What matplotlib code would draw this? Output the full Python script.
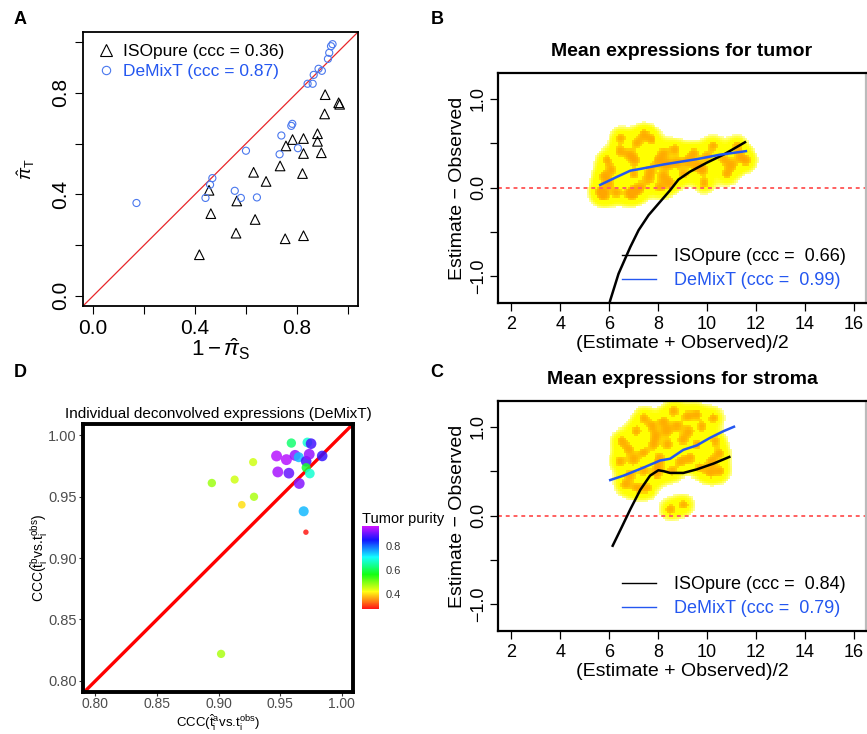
import numpy as np
import matplotlib
matplotlib.use("Agg")
import matplotlib.pyplot as plt
from matplotlib.colors import LinearSegmentedColormap, hsv_to_rgb
from matplotlib.lines import Line2D

plt.rcParams['font.family'] = ['Liberation Sans', 'DejaVu Sans']
plt.rcParams['mathtext.fontset'] = 'custom'
plt.rcParams['mathtext.rm'] = 'Liberation Sans'
plt.rcParams['mathtext.it'] = 'Liberation Sans:italic'

# ---- panel A: purity estimates
iso_x = [0.417, 0.455, 0.462, 0.561, 0.564, 0.630, 0.636, 0.679, 0.734, 0.757, 0.754, 0.783,
         0.826, 0.826, 0.822, 0.826, 0.881, 0.881, 0.896, 0.909, 0.911, 0.964, 0.968]
iso_y = [0.162, 0.416, 0.324, 0.247, 0.374, 0.487, 0.301, 0.451, 0.512, 0.591, 0.225, 0.616,
         0.620, 0.561, 0.482, 0.237, 0.639, 0.609, 0.564, 0.717, 0.793, 0.761, 0.755]
dmx_x = [0.170, 0.441, 0.459, 0.468, 0.556, 0.580, 0.600, 0.643, 0.732, 0.739, 0.778, 0.782,
         0.804, 0.842, 0.862, 0.866, 0.885, 0.898, 0.922, 0.927, 0.934, 0.940]
dmx_y = [0.366, 0.386, 0.438, 0.464, 0.414, 0.386, 0.572, 0.388, 0.558, 0.632, 0.670, 0.678,
         0.582, 0.836, 0.836, 0.871, 0.895, 0.887, 0.934, 0.958, 0.984, 0.992]

# ---- panel B: tumor mean expressions (MA plot)
tum_iso_x = [5.98, 6.04, 6.38, 6.86, 7.20, 7.61, 8.08, 8.49, 8.83, 9.31, 9.99, 10.67, 11.55]
tum_iso_y = [-1.33, -1.27, -0.97, -0.67, -0.48, -0.31, -0.16, -0.03, 0.09, 0.18, 0.28, 0.37, 0.51]
tum_dmx_x = [5.63, 6.31, 6.86, 7.27, 8.22, 9.58, 10.53, 11.59]
tum_dmx_y = [0.03, 0.12, 0.19, 0.21, 0.26, 0.32, 0.37, 0.41]
tum_cloud_x = [6.11, 5.77, 6.45, 6.86, 6.48, 7.40, 7.74, 8.22, 8.69, 9.44, 9.03, 9.85, 10.67,
               11.35, 11.21, 10.26, 5.63, 6.31, 6.99, 7.67, 8.22, 7.27, 8.08, 8.76, 8.36,
               9.58, 11.62, 5.90, 5.77, 6.86, 7.13, 10.80, 7.00, 9.90, 7.05, 8.00, 9.20,
               10.00, 11.00, 6.00, 7.60, 8.50]
tum_cloud_y = [0.20, 0.13, 0.41, 0.37, 0.56, 0.60, 0.54, 0.39, 0.43, 0.39, 0.15, 0.20, 0.32,
               0.35, 0.47, 0.47, -0.04, -0.06, 0.15, 0.20, 0.13, 0.00, 0.00, 0.28, 0.26,
               0.24, 0.30, 0.31, -0.09, -0.07, 0.50, 0.15, -0.05, 0.05, 0.30, 0.30, 0.30,
               0.35, 0.25, 0.05, 0.10, 0.05]

# ---- panel C: stroma mean expressions
str_iso_x = [6.14, 6.52, 6.86, 7.27, 7.67, 8.01, 8.22, 8.49, 9.03, 9.58, 10.26, 10.91]
str_iso_y = [-0.34, -0.125, 0.07, 0.29, 0.45, 0.51, 0.50, 0.48, 0.48, 0.52, 0.585, 0.66]
str_dmx_x = [6.04, 6.59, 7.40, 8.08, 8.49, 9.03, 9.58, 10.12, 10.67, 11.10]
str_dmx_y = [0.40, 0.45, 0.54, 0.62, 0.64, 0.74, 0.79, 0.875, 0.95, 1.00]
str_cloud_x = [6.52, 7.74, 8.36, 8.63, 9.18, 9.59, 10.27, 9.24, 8.77, 7.40, 7.81, 8.08, 7.00,
               6.86, 7.40, 7.95, 8.57, 8.91, 10.13, 10.20, 10.33, 9.72, 9.04, 8.50, 7.13,
               6.66, 7.54, 10.54, 6.45, 8.22, 7.40, 9.59, 7.90, 8.40, 9.00, 9.80, 10.50,
               7.10, 8.00, 9.30, 6.80]
str_cloud_y = [0.84, 1.01, 0.95, 1.18, 1.12, 1.14, 1.10, 0.95, 1.01, 0.71, 0.80, 0.65, 0.63,
               0.46, 0.50, 0.46, 0.50, 0.61, 0.48, 0.61, 0.84, 0.54, 0.12, 0.07, 0.31,
               0.35, 0.31, 0.50, 0.61, 1.06, 1.10, 0.80, 0.90, 0.80, 0.85, 1.00, 0.70,
               0.95, 0.55, 0.65, 0.75]

# ---- panel D: individual deconvolved expressions
ind_x = [0.959, 0.972, 0.975, 0.947, 0.955, 0.962, 0.965, 0.971, 0.9735, 0.984, 0.948, 0.957,
         0.971, 0.974, 0.9654, 0.969, 0.8945, 0.913, 0.9287, 0.9188, 0.9708, 0.928, 0.902]
ind_y = [0.9935, 0.994, 0.993, 0.983, 0.980, 0.9835, 0.982, 0.9787, 0.9844, 0.983, 0.970, 0.969,
         0.9735, 0.9687, 0.9606, 0.938, 0.961, 0.9638, 0.9498, 0.9433, 0.921, 0.978, 0.822]
ind_purity = [0.62, 0.68, 0.88, 0.95, 0.95, 0.93, 0.75, 0.88, 0.93, 0.87, 0.94, 0.90,
              0.58, 0.68, 0.92, 0.75, 0.48, 0.45, 0.47, 0.40, 0.28, 0.45, 0.47]

BLUE = '#2457F0'

fig = plt.figure(figsize=(8.67, 7.34), dpi=100)
W, H = 867.0, 734.0


def px_axes(x0, y0, x1, y1):
    return fig.add_axes([x0 / W, 1 - y1 / H, (x1 - x0) / W, (y1 - y0) / H])


def kde(X, Y, cx, cy, bx, by):
    d = np.zeros_like(X)
    for a, b in zip(cx, cy):
        d += np.exp(-0.5 * ((X - a) / bx) ** 2 - 0.5 * ((Y - b) / by) ** 2)
    return d


def density(ax, cx, cy, xlim, ylim):
    gx = np.arange(xlim[0], xlim[1], 0.08)
    gy = np.arange(ylim[0], ylim[1], 0.024)
    X, Y = np.meshgrid(gx, gy)
    wide = np.ma.masked_less(kde(X, Y, cx, cy, 0.30, 0.085), 0.30)
    narrow = np.ma.masked_less(kde(X, Y, cx, cy, 0.18, 0.05), 0.6)
    ycm = LinearSegmentedColormap.from_list('y', ['#FFFFA0', '#FFFF30', '#FFFF00'])
    ocm = LinearSegmentedColormap.from_list('o', ['#FFD800', '#FFB400', '#FFA500'])
    ax.pcolormesh(X, Y, wide, cmap=ycm, vmin=0.3, vmax=0.8, shading='nearest', zorder=0.5)
    ax.pcolormesh(X, Y, narrow, cmap=ocm, vmin=0.6, vmax=1.3, shading='nearest', zorder=0.6)


# ================= A
axA = px_axes(83, 32, 358, 306)
axA.plot([-0.1, 1.1], [-0.1, 1.1], color='#E8262A', lw=0.9, zorder=1)
axA.scatter(iso_x, iso_y, marker='^', s=48, facecolors='none', edgecolors='black', linewidths=0.8, zorder=3)
axA.scatter(dmx_x, dmx_y, marker='o', s=26, facecolors='none', edgecolors='#4A78EE', linewidths=0.8, zorder=3)
axA.set_xlim(-0.04, 1.04)
axA.set_ylim(-0.04, 1.04)
ticksA = [0.0, 0.2, 0.4, 0.6, 0.8, 1.0]
labsA = ['0.0', '', '0.4', '', '0.8', '']
axA.set_xticks(ticksA)
axA.set_xticklabels(labsA, fontsize=15)
axA.set_yticks(ticksA)
axA.set_yticklabels(labsA, fontsize=15, rotation=90, va='center')
axA.tick_params(length=6, width=0.8)
axA.set_xlabel(r'$1-\hat{\pi}_{\mathrm{S}}$', fontsize=16, labelpad=-1)
axA.set_ylabel(r'$\hat{\pi}_{\mathrm{T}}$', fontsize=13, labelpad=10)
for s in axA.spines.values():
    s.set_linewidth(1.3)
hA = [Line2D([], [], marker='^', ls='none', mfc='none', mec='black', ms=8, mew=0.8),
      Line2D([], [], marker='o', ls='none', mfc='none', mec='#4A78EE', ms=6, mew=0.8)]
legA = axA.legend(hA, ['ISOpure (ccc = 0.36)', 'DeMixT (ccc = 0.87)'], loc='upper left',
                  frameon=False, fontsize=12.5, handletextpad=0.4, labelspacing=0.25,
                  borderaxespad=0.3, handlelength=1.2)
legA.get_texts()[1].set_color(BLUE)


# ================= B and C
def ma_panel(box, title, cx, cy, ix, iy, dx, dy, labs):
    ax = px_axes(*box)
    xlim = (1.45, 16.5)
    ylim = (-1.3, 1.29)
    density(ax, cx, cy, xlim, ylim)
    ax.axhline(0, color='#FF6060', lw=1.4, ls=(0, (2, 2)), zorder=1)
    ax.plot(ix, iy, color='black', lw=1.8, zorder=3)
    ax.plot(dx, dy, color=BLUE, lw=1.8, zorder=3)
    ax.set_xlim(*xlim)
    ax.set_ylim(*ylim)
    ax.set_xticks(range(2, 17, 2))
    ax.set_xticklabels([str(v) for v in range(2, 17, 2)], fontsize=13)
    ax.set_yticks([-1.0, -0.5, 0.0, 0.5, 1.0])
    ax.set_yticklabels(['\u22121.0', '', '0.0', '', '1.0'], fontsize=13, rotation=90, va='center')
    ax.tick_params(length=6, width=0.9)
    ax.tick_params(axis='y', pad=2)
    ax.set_xlabel('(Estimate + Observed)/2', fontsize=14, labelpad=1)
    ax.set_ylabel('Estimate \u2212 Observed', fontsize=14, labelpad=3)
    ax.set_title(title, fontsize=14, fontweight='bold', pad=12)
    for s in ax.spines.values():
        s.set_linewidth(1.6)
    ax.spines['right'].set_color('#BBBBBB')
    hs = [Line2D([], [], color='black', lw=1.0), Line2D([], [], color=BLUE, lw=1.0)]
    leg = ax.legend(hs, labs, loc='lower right', frameon=False, fontsize=13,
                    handlelength=1.9, handletextpad=1.0, labelspacing=0.4,
                    bbox_to_anchor=(0.99, -0.01))
    leg.get_texts()[1].set_color(BLUE)
    return ax


axB = ma_panel((498, 73, 866, 303), 'Mean expressions for tumor', tum_cloud_x, tum_cloud_y,
               tum_iso_x, tum_iso_y, tum_dmx_x, tum_dmx_y,
               ['ISOpure (ccc =  0.66)', 'DeMixT (ccc =  0.99)'])
axC = ma_panel((498, 401, 866, 631), 'Mean expressions for stroma', str_cloud_x, str_cloud_y,
               str_iso_x, str_iso_y, str_dmx_x, str_dmx_y,
               ['ISOpure (ccc =  0.84)', 'DeMixT (ccc =  0.79)'])

# ================= D
axD = px_axes(83, 424, 353, 692)
hues = np.linspace(0.0, 0.80, 256)
rain = hsv_to_rgb(np.column_stack([hues, np.full(256, 0.92), np.ones(256)]))
rain_cmap = LinearSegmentedColormap.from_list('rain', rain)
pur = np.array(ind_purity)
diam = 4.2 + 6.8 * ((pur - 0.27) / 0.7) ** 0.4
axD.plot([0.7, 1.1], [0.7, 1.1], color='#FF0000', lw=2.4, zorder=1)
sc = axD.scatter(ind_x, ind_y, c=ind_purity, cmap=rain_cmap, vmin=0.275, vmax=0.967,
                 s=(diam * 0.72) ** 2, alpha=0.85, edgecolors='none', zorder=3)
axD.set_xlim(0.79, 1.009)
axD.set_ylim(0.791, 1.009)
dt = [0.80, 0.85, 0.90, 0.95, 1.00]
axD.set_xticks(dt)
axD.set_xticklabels(['%.2f' % v for v in dt])
axD.set_yticks(dt)
axD.set_yticklabels(['%.2f' % v for v in dt])
axD.tick_params(length=3, width=0.8, color='#333333', labelcolor='#4D4D4D', labelsize=10.5, pad=1.5)
axD.tick_params(axis='x', pad=0.5, labelsize=10)
for s in axD.spines.values():
    s.set_linewidth(2.8)
axD.set_title('Individual deconvolved expressions (DeMixT)', fontsize=11, pad=4)
fig.text(218 / W, 1 - 733 / H,
         r'CCC($\hat{\mathrm{t}}_{\mathrm{i}}^{\mathrm{a}}$vs.$\mathrm{t}_{\mathrm{i}}^{\mathrm{obs}}$)',
         fontsize=9.5, ha='center', va='bottom')
axD.set_ylabel(r'CCC($\hat{\mathrm{t}}_{\mathrm{i}}^{\mathrm{b}}$vs.$\mathrm{t}_{\mathrm{i}}^{\mathrm{obs}}$)',
               fontsize=10, labelpad=-1)

cax = px_axes(362, 526, 379, 609)
cb = fig.colorbar(sc, cax=cax, ticks=[0.4, 0.6, 0.8])
cb.solids.set_alpha(1)
cb.outline.set_visible(False)
cax.tick_params(length=3, color='white', labelsize=8, labelcolor='#333333', pad=1.5)
cax.set_yticklabels(['0.4', '0.6', '0.8'])
fig.text(362 / W, 1 - 519 / H, 'Tumor purity', fontsize=10.5, ha='left', va='center')

# panel letters
for lab, x, y in [('A', 20, 20), ('B', 437, 20), ('D', 20, 372), ('C', 437, 372)]:
    fig.text(x / W, 1 - y / H, lab, fontsize=13, fontweight='bold', ha='center', va='center')

fig.savefig('out.png', dpi=100)
